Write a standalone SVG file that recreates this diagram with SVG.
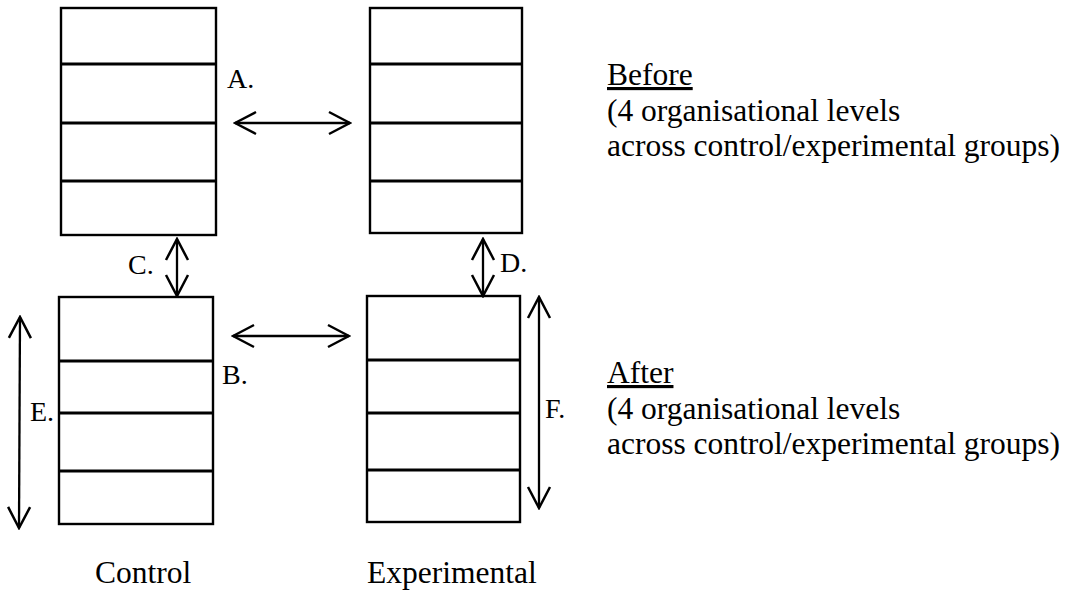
<svg xmlns="http://www.w3.org/2000/svg" width="1076" height="592" viewBox="0 0 1076 592">
<style>
.box{fill:#fff;stroke:#000;stroke-width:2.4}
.div{stroke:#000;stroke-width:2.8}
.con{stroke:#000;stroke-width:2.3;fill:none;marker-start:url(#ah);marker-end:url(#ah)}
text{font-family:"Liberation Serif","Times New Roman",serif;fill:#000}
.lbl{font-size:28px}
.desc{font-size:31.5px}
.ul{text-decoration:underline}
</style>
<defs>
<marker id="ah" viewBox="0 0 24 26" refX="22" refY="13" markerWidth="24" markerHeight="26" markerUnits="userSpaceOnUse" orient="auto-start-reverse">
<path d="M1,2 L22,13 L1,24" fill="none" stroke="#000" stroke-width="2.5"/>
</marker>
</defs>
<rect width="1076" height="592" fill="#fff"/>
<g id="control-before">
<rect class="box" x="61" y="8" width="155" height="227"/>
<line class="div" x1="61" y1="64" x2="216" y2="64"/>
<line class="div" x1="61" y1="123" x2="216" y2="123"/>
<line class="div" x1="61" y1="181" x2="216" y2="181"/>
</g>
<g id="experimental-before">
<rect class="box" x="370" y="8" width="152" height="225"/>
<line class="div" x1="370" y1="64" x2="522" y2="64"/>
<line class="div" x1="370" y1="123" x2="522" y2="123"/>
<line class="div" x1="370" y1="181" x2="522" y2="181"/>
</g>
<g id="control-after">
<rect class="box" x="59" y="297" width="154" height="227"/>
<line class="div" x1="59" y1="361" x2="213" y2="361"/>
<line class="div" x1="59" y1="413" x2="213" y2="413"/>
<line class="div" x1="59" y1="471" x2="213" y2="471"/>
</g>
<g id="experimental-after">
<rect class="box" x="367" y="296" width="153" height="226"/>
<line class="div" x1="367" y1="360" x2="520" y2="360"/>
<line class="div" x1="367" y1="413" x2="520" y2="413"/>
<line class="div" x1="367" y1="470" x2="520" y2="470"/>
</g>
<g id="connectors">
<line class="con" x1="235" y1="123" x2="350" y2="123"/>
<line class="con" x1="233" y1="336" x2="349" y2="336"/>
<line class="con" x1="177" y1="239" x2="177" y2="296"/>
<line class="con" x1="483" y1="239" x2="483" y2="296"/>
<line class="con" x1="20" y1="317" x2="19" y2="528"/>
<line class="con" x1="539" y1="297" x2="539" y2="508"/>
</g>
<g id="labels">
<text class="lbl" x="227" y="88">A.</text>
<text class="lbl" x="222" y="384">B.</text>
<text class="lbl" x="128" y="274">C.</text>
<text class="lbl" x="500" y="272">D.</text>
<text class="lbl" x="30" y="421">E.</text>
<text class="lbl" x="545" y="418">F.</text>
<text class="desc" x="95" y="583">Control</text>
<text class="desc" x="367" y="583">Experimental</text>
</g>
<g id="before-note">
<text class="desc" x="607" y="85"><tspan class="ul">Before</tspan><tspan x="607" dy="35.5">(4 organisational levels</tspan><tspan x="607" dy="35.5">across control/experimental groups)</tspan></text>
</g>
<g id="after-note">
<text class="desc" x="607" y="383"><tspan class="ul">After</tspan><tspan x="607" dy="35.5">(4 organisational levels</tspan><tspan x="607" dy="35.5">across control/experimental groups)</tspan></text>
</g>
</svg>
